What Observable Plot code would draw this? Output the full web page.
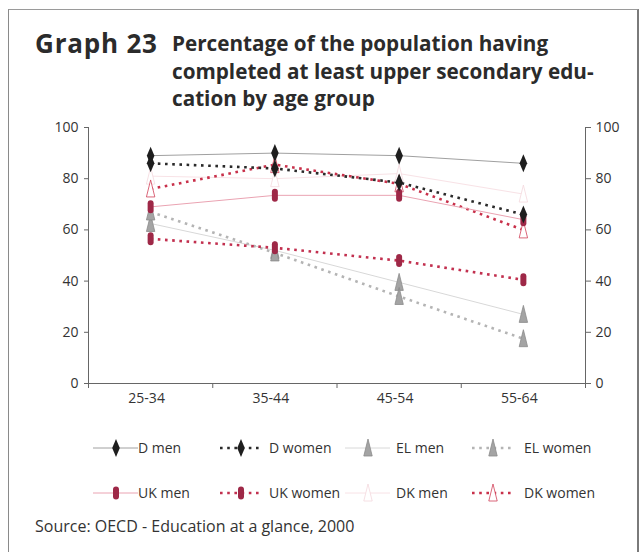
<!DOCTYPE html>
<html>
<head>
<meta charset="utf-8">
<script src="https://cdn.jsdelivr.net/npm/d3@7"></script>
<script src="https://cdn.jsdelivr.net/npm/@observablehq/plot@0.6"></script>
<style>
  html, body { margin: 0; padding: 0; background: #fff; }
  body { width: 644px; height: 552px; position: relative; overflow: hidden; font-family: "Open Sans", sans-serif; color: #333; }
  #frame { position: absolute; left: 8px; top: 9px; width: 628px; height: 600px; border-left: 1px solid #8a8a8a; border-top: 1px solid #9a9a9a; border-right: 2px solid #7a7a7a; }
  #graphno { position: absolute; left: 35px; top: 28px; font-weight: 700; font-size: 26px; letter-spacing: 0.8px; color: #2b2b2b; line-height: 30px; white-space: nowrap; }
  #title { position: absolute; left: 172px; top: 30px; font-weight: 700; font-size: 20.7px; color: #2b2b2b; line-height: 27.5px; white-space: nowrap; }
  #chart { position: absolute; left: 0; top: 110px; }
  .leg { position: absolute; height: 20px; display: flex; align-items: center; font-size: 14px; color: #333; white-space: nowrap; }
  .leg svg { display: block; }
  .legtxt { position: absolute; font-size: 14px; color: #333; white-space: nowrap; line-height: 20px; }
  #source { position: absolute; left: 35px; top: 515px; font-size: 16px; color: #333; white-space: nowrap; }
</style>
</head>
<body>
<div id="frame"></div>
<div id="graphno">Graph 23</div>
<div id="title">Percentage of the population having<br>completed at least upper secondary edu-<br>cation by age group</div>
<div id="chart"></div>
<div id="legend"></div>
<div id="source">Source: OECD - Education at a glance, 2000</div>
<script>
// ---- Data ----
const ages = ["25-34", "35-44", "45-54", "55-64"];
const yTicks = [0, 20, 40, 60, 80, 100];
const dMen    = [89, 90, 89, 86];
const dWomen  = [86, 84, 78.5, 66];
const elMen   = [62.5, 52, 39.5, 27];
const elWomen = [67, 51, 34, 17.5];
const ukMen   = [69, 73.5, 73.5, 64];
const ukWomen = [56.5, 53, 48, 40.5];
const dkMen   = [81, 80, 82, 74];
const dkWomen = [76, 85.5, 78, 60];

// ---- Marker shapes ----
const tallDiamond = { draw(c) { c.moveTo(0, -9); c.lineTo(3.8, 0); c.lineTo(0, 9); c.lineTo(-3.8, 0); c.closePath(); } };
const tallTriangle = { draw(c) { c.moveTo(0, -9); c.lineTo(4.2, 8); c.lineTo(-4.2, 8); c.closePath(); } };
const pill = { draw(c) { c.moveTo(-3, -3.5); c.arc(0, -3.5, 3, Math.PI, 0); c.lineTo(3, 3.5); c.arc(0, 3.5, 3, 0, Math.PI); c.closePath(); } };

// ---- Series styles ----
const series = [
  { name: "D men",     values: dMen,    line: "#a0a0a0", lw: 1,   dash: null,  sym: tallDiamond, fill: "#1e1e1e", mstroke: "none", order: 8 },
  { name: "D women",   values: dWomen,  line: "#2a2a2a", lw: 2.6, dash: "2.6,4.6", sym: tallDiamond, fill: "#1e1e1e", mstroke: "none", order: 9 },
  { name: "EL men",    values: elMen,   line: "#d8d8d8", lw: 1,   dash: null,  sym: tallTriangle, fill: "#a4a4a4", mstroke: "#8a8a8a", order: 2 },
  { name: "EL women",  values: elWomen, line: "#b4b4b4", lw: 2.6, dash: "2.6,4.6", sym: tallTriangle, fill: "#a4a4a4", mstroke: "#8a8a8a", order: 3 },
  { name: "UK men",    values: ukMen,   line: "#eaa3b2", lw: 1,   dash: null,  sym: pill, fill: "#9e2847", mstroke: "none", order: 6 },
  { name: "UK women",  values: ukWomen, line: "#c2304f", lw: 2.6, dash: "2.6,4.6", sym: pill, fill: "#9e2847", mstroke: "none", order: 7 },
  { name: "DK men",    values: dkMen,   line: "#f8e2e6", lw: 1,   dash: null,  sym: tallTriangle, fill: "#fff", mstroke: "#f4d8dd", order: 1 },
  { name: "DK women",  values: dkWomen, line: "#c8304a", lw: 2.6, dash: "2.6,4.6", sym: tallTriangle, fill: "#fff", mstroke: "#d04058", order: 4 }
];

const rows = s => s.values.map((v, i) => ({ name: s.name, x: i + 0.5, v }));
const drawOrder = series.slice().sort((a, b) => a.order - b.order);

const lineMarks = drawOrder.map(s => Plot.line(rows(s), {
  x: "x", y: "v", stroke: s.line, strokeWidth: s.lw,
  strokeDasharray: s.dash || undefined, strokeLinecap: "butt"
}));
const dotMarks = drawOrder.map(s => Plot.dot(rows(s), {
  x: "x", y: "v", symbol: s.sym, r: 4, fill: s.fill,
  stroke: s.mstroke, strokeWidth: 0.8
}));

const axisStyle = { fontSize: 14, fill: "#333" };
const chart = Plot.plot({
  width: 644, height: 300,
  marginLeft: 88, marginRight: 59, marginTop: 17, marginBottom: 27,
  style: { fontFamily: "'Open Sans', sans-serif", background: "transparent", overflow: "visible" },
  x: { domain: [0, ages.length] },
  y: { domain: [0, 100] },
  marks: [
    Plot.axisY({ anchor: "left", ticks: yTicks, tickSize: 4, tickPadding: 6, label: null, stroke: "#666", ...axisStyle }),
    Plot.axisY({ anchor: "right", ticks: yTicks, tickSize: 5, tickPadding: 5, label: null, stroke: "#666", ...axisStyle }),
    Plot.axisX({ ticks: d3.range(ages.length + 1), tickFormat: () => "", tickSize: 5, label: null, stroke: "#666" }),
    Plot.axisX({ ticks: ages.map((a, i) => i + 0.5), tickFormat: d => ages[Math.round(d - 0.5)], tickSize: 0, tickPadding: 10, dx: -4, label: null, ...axisStyle }),
    Plot.ruleX([0, ages.length], { stroke: "#666" }),
    Plot.ruleY([0], { stroke: "#666" }),
    ...lineMarks,
    ...dotMarks
  ]
});
document.getElementById("chart").appendChild(chart);

// ---- Legend ----
const legOrder = ["D men", "D women", "EL men", "EL women", "UK men", "UK women", "DK men", "DK women"];
const colLeft = [93, 220, 345, 472];
const labelLeft = [138, 269, 396, 524];
const rowTop = [438, 483];
const legend = d3.select("#legend");
legOrder.forEach((name, k) => {
  const s = series.find(d => d.name === name);
  const col = k % 4, row = Math.floor(k / 4);
  const w = s.dash ? 42 : 45;
  const svg = legend.append("svg").attr("width", w).attr("height", 20)
    .style("position", "absolute").style("left", colLeft[col] + "px").style("top", rowTop[row] + "px");
  svg.append("line").attr("x1", 0).attr("x2", w).attr("y1", 10).attr("y2", 10)
    .attr("stroke", s.line).attr("stroke-width", s.lw)
    .attr("stroke-dasharray", s.dash).attr("stroke-linecap", "butt");
  svg.append("path").attr("transform", `translate(${Math.round(w / 2)},10)`)
    .attr("d", d3.symbol(s.sym)())
    .attr("fill", s.fill).attr("stroke", s.mstroke).attr("stroke-width", 0.8);
  legend.append("div").attr("class", "legtxt").text(name)
    .style("left", labelLeft[col] + "px").style("top", rowTop[row] + "px");
});
</script>
</body>
</html>
